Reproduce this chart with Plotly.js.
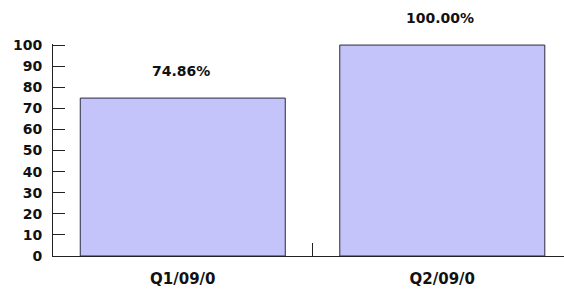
<!DOCTYPE html>
<html>
<head>
<meta charset="utf-8">
<script src="https://cdn.plot.ly/plotly-3.0.1.min.js"></script>
<style>html,body{margin:0;padding:0;background:#fff;}#chart{width:564px;height:290px;}</style>
</head>
<body>
<div id="chart"></div>
<script>
const categories = ['Q1/09/0', 'Q2/09/0'];
const values = [74.86, 100.00];
const valueLabels = ['74.86%', '100.00%'];
const yTickValues = [0, 10, 20, 30, 40, 50, 60, 70, 80, 90, 100];

const FONT = 'DejaVu Sans, Verdana, sans-serif';

const trace = {
  type: 'bar',
  x: categories,
  y: values,
  width: 0.79,
  marker: { color: '#c4c4fa', line: { color: '#2a2a40', width: 1 } },
  hoverinfo: 'none'
};

const annotations = categories.map((c, i) => ({
  x: c, y: values[i], text: '<b>' + valueLabels[i] + '</b>',
  xref: 'x', yref: 'y', showarrow: false,
  yanchor: 'middle', yshift: 27, xshift: -2,
  font: { family: FONT, size: 14, color: '#111' }
}));

const layout = {
  width: 564, height: 290,
  margin: { l: 53, r: 0, t: 44, b: 34 },
  paper_bgcolor: '#fff', plot_bgcolor: '#fff',
  showlegend: false,
  xaxis: {
    type: 'category',
    range: [-0.5, 1.469],
    tickson: 'boundaries',
    ticks: 'inside', ticklen: 13, tickcolor: '#222', tickwidth: 1,
    showline: true, linecolor: '#222', linewidth: 1,
    showgrid: false, zeroline: false,
    tickfont: { family: FONT, size: 15, color: '#111', weight: 'bold' },
    ticklabelstandoff: 9
  },
  yaxis: {
    range: [0, 100.5],
    tickvals: yTickValues,
    ticktext: yTickValues.map(String),
    ticks: 'inside', ticklen: 12, tickcolor: '#222', tickwidth: 1,
    showline: true, linecolor: '#222', linewidth: 1,
    showgrid: false, zeroline: false,
    tickfont: { family: FONT, size: 14, color: '#111', weight: 'bold' },
    ticklabelstandoff: 7
  },
  annotations: annotations,
  font: { family: FONT }
};

Plotly.newPlot('chart', [trace], layout, { staticPlot: true, displayModeBar: false });
</script>
</body>
</html>
